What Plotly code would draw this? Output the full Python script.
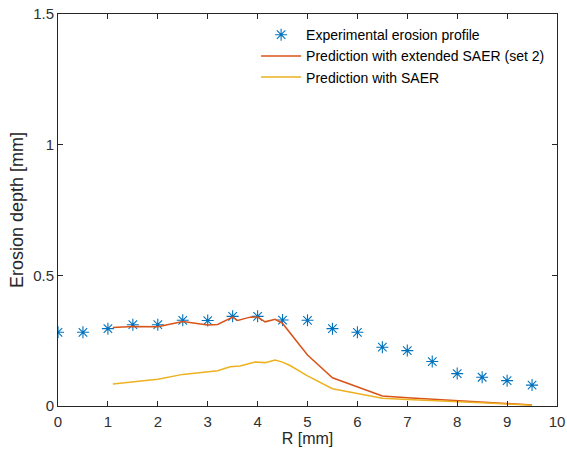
import plotly.graph_objects as go

R_exp = [0, 0.5, 1, 1.5, 2, 2.5, 3, 3.5, 4, 4.5, 5, 5.5, 6, 6.5, 7, 7.5, 8, 8.5, 9, 9.5]
depth_exp = [0.282, 0.282, 0.296, 0.311, 0.311, 0.328, 0.327, 0.343, 0.343, 0.329,
             0.328, 0.296, 0.282, 0.225, 0.212, 0.170, 0.124, 0.110, 0.097, 0.080]

R_ext = [1.1, 1.5, 2.0, 2.5, 3.0, 3.2, 3.5, 3.6, 3.85, 4.0, 4.15, 4.35, 4.5, 4.85, 5.0,
         5.5, 6.0, 6.5, 7.0, 7.5, 8.0, 8.5, 9.0, 9.5]
depth_ext = [0.300, 0.304, 0.303, 0.323, 0.310, 0.312, 0.340, 0.327, 0.340, 0.341, 0.322,
             0.332, 0.316, 0.233, 0.195, 0.108, 0.074, 0.038, 0.032, 0.026, 0.020, 0.015,
             0.010, 0.004]

R_saer = [1.1, 1.5, 2.0, 2.5, 3.0, 3.2, 3.45, 3.65, 3.95, 4.15, 4.35, 4.5, 4.65, 4.85, 5.0,
          5.5, 6.0, 6.5, 7.0, 7.5, 8.0, 8.5, 9.0, 9.5]
depth_saer = [0.084, 0.091, 0.102, 0.121, 0.130, 0.135, 0.150, 0.153, 0.168, 0.166, 0.176,
              0.168, 0.155, 0.131, 0.115, 0.066, 0.047, 0.030, 0.025, 0.020, 0.016, 0.012,
              0.008, 0.003]

x_ticks = list(range(0, 11))
y_ticks = [0, 0.5, 1, 1.5]
y_tick_labels = ["0", "0.5", "1", "1.5"]

names = ["Experimental erosion profile",
         "Prediction with extended SAER (set 2)",
         "Prediction with SAER"]

fig = go.Figure()
fig.add_trace(go.Scatter(x=R_exp, y=depth_exp, mode="markers", name=names[0],
                         marker=dict(symbol="asterisk-open", size=10, color="#0072BD",
                                     line=dict(width=1.1, color="#0072BD"))))
fig.add_trace(go.Scatter(x=R_ext, y=depth_ext, mode="lines", name=names[1],
                         line=dict(color="#D95319", width=1.5)))
fig.add_trace(go.Scatter(x=R_saer, y=depth_saer, mode="lines", name=names[2],
                         line=dict(color="#EDB120", width=1.5)))

axis_common = dict(showline=True, linecolor="#262626", linewidth=1, mirror="ticks",
                   ticks="inside", ticklen=5, tickcolor="#262626", showgrid=False,
                   zeroline=False, tickfont=dict(size=15, color="#303030"))

fig.update_xaxes(range=[0, 10], tickvals=x_ticks, ticklabelstandoff=2,
                 title=dict(text="R [mm]", font=dict(size=16, color="#262626"), standoff=2),
                 **axis_common)
fig.update_yaxes(range=[0, 1.5], tickvals=y_ticks, ticktext=y_tick_labels,
                 title=dict(text="Erosion depth [mm]", font=dict(size=18, color="#262626"), standoff=4),
                 **axis_common)

fig.update_layout(
    width=567, height=460,
    margin=dict(l=58, r=10, t=14, b=54, autoexpand=False),
    plot_bgcolor="white", paper_bgcolor="white",
    font=dict(family="Liberation Sans, Arial, sans-serif", color="#262626"),
    legend=dict(x=0.397, y=0.987, xanchor="left", yanchor="top",
                bgcolor="rgba(0,0,0,0)", font=dict(size=14, color="#000000"),
                tracegroupgap=0, itemwidth=40),
)

fig.write_html("out.html")
